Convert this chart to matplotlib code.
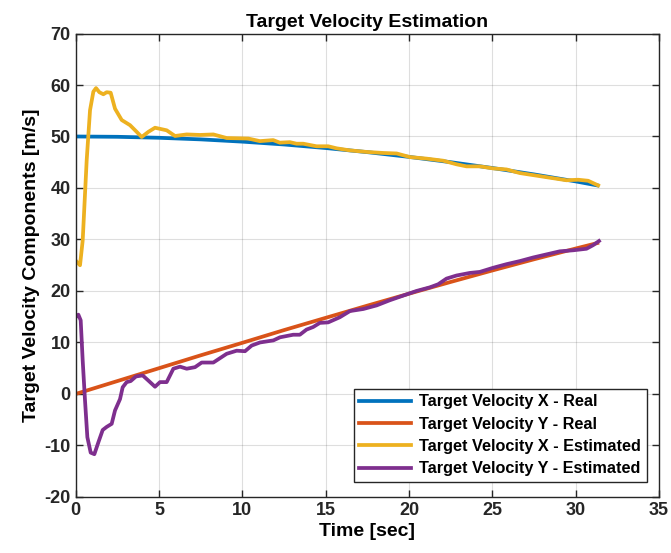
import numpy as np
import matplotlib
matplotlib.use("Agg")
import matplotlib.pyplot as plt

plt.rcParams['font.family'] = ['Liberation Sans', 'DejaVu Sans']
plt.rcParams['font.weight'] = 'bold'
plt.rcParams['axes.unicode_minus'] = False

# real target velocity components
t_real = [0, 2.5, 5, 7.5, 10, 12.5, 15, 17.5, 20, 22.5, 25, 27.5, 30, 31.3]
vx_real = [50.0, 49.94, 49.75, 49.44, 49.0, 48.45, 47.76, 46.96, 46.04, 45.01, 43.88, 42.64, 41.28, 40.5]
vy_real = [0.0, 2.5, 5.0, 7.5, 9.93, 12.4, 14.78, 17.15, 19.47, 21.75, 23.98, 26.15, 28.24, 29.3]

# estimated x component
t_est_x = [0, 0.26, 0.42, 0.56, 0.66, 0.86, 1.06, 1.22, 1.42, 1.66, 1.86, 2.1, 2.36, 2.76,
           3.26, 3.66, 3.96, 4.36, 4.76, 5.46, 5.96, 6.66, 7.46, 8.26, 9.06, 10.36, 11.05,
           11.85, 12.25, 12.85, 13.25, 13.65, 14.45, 15.15, 15.66, 16.46, 17.46, 18.46,
           19.26, 20.06, 21.06, 22.05, 22.85, 23.45, 24.25, 25.05, 25.85, 26.65, 27.45,
           28.45, 29.45, 30.15, 30.75, 31.35]
vx_est = [25.9, 25.0, 29.8, 38.9, 45.4, 55.1, 58.7, 59.4, 58.6, 58.2, 58.6, 58.5, 55.4, 53.2,
          52.2, 50.9, 49.9, 50.9, 51.7, 51.2, 50.1, 50.4, 50.3, 50.4, 49.7, 49.6, 49.1,
          49.3, 48.8, 48.9, 48.6, 48.6, 48.1, 48.1, 47.7, 47.3, 47.0, 46.8,
          46.7, 46.0, 45.7, 45.3, 44.6, 44.2, 44.2, 43.8, 43.6, 42.9, 42.5,
          42.0, 41.5, 41.6, 41.4, 40.5]

# estimated y component
t_est_y = [0, 0.16, 0.3, 0.42, 0.56, 0.7, 0.9, 1.12, 1.36, 1.62, 1.86, 2.16, 2.36, 2.66,
           2.82, 3.06, 3.3, 3.62, 4.02, 4.36, 4.76, 5.06, 5.46, 5.86, 6.26, 6.66, 7.16,
           7.56, 8.26, 9.06, 9.66, 10.16, 10.56, 11.06, 11.86, 12.26, 13.05, 13.45, 13.85,
           14.25, 14.65, 15.15, 15.85, 16.46, 17.26, 18.06, 18.85, 19.65, 20.45, 21.25,
           21.75, 22.25, 22.85, 23.65, 24.25, 25.05, 25.85, 26.65, 27.45, 28.25, 29.05,
           29.85, 30.65, 31.05, 31.4]
vy_est = [14.9, 15.4, 14.3, 6.5, -1.3, -8.4, -11.4, -11.7, -9.4, -7.0, -6.4, -5.8, -3.2, -1.0,
          1.3, 2.3, 2.5, 3.4, 3.6, 2.6, 1.4, 2.3, 2.3, 4.9, 5.3, 4.9, 5.2,
          6.1, 6.1, 7.8, 8.4, 8.3, 9.4, 10.0, 10.4, 11.0, 11.5, 11.5, 12.5,
          13.0, 13.8, 13.9, 14.9, 16.1, 16.5, 17.2, 18.2, 19.1, 20.0, 20.7,
          21.3, 22.4, 23.0, 23.5, 23.7, 24.5, 25.2, 25.8, 26.5, 27.1, 27.7,
          27.9, 28.2, 28.9, 29.7]

series_labels = ['Target Velocity X - Real', 'Target Velocity Y - Real',
                 'Target Velocity X - Estimated', 'Target Velocity Y - Estimated']
colors = ['#0072BD', '#D95319', '#EDB120', '#7E2F8E']

fig = plt.figure(figsize=(6.71, 5.53), dpi=100)
ax = fig.add_axes([0.1128, 0.1014, 0.8693, 0.838])

lw = 2.7
ax.plot(t_real, vx_real, color=colors[0], lw=lw, label=series_labels[0])
ax.plot(t_real, vy_real, color=colors[1], lw=lw, label=series_labels[1])
ax.plot(t_est_x, vx_est, color=colors[2], lw=lw, label=series_labels[2])
ax.plot(t_est_y, vy_est, color=colors[3], lw=lw, label=series_labels[3])

ax.set_xlim(0, 35)
ax.set_ylim(-20, 70)
ax.set_xticks(range(0, 36, 5))
ax.set_yticks(range(-20, 71, 10))
ax.grid(True, color='#262626', alpha=0.15, lw=0.8)
ax.tick_params(direction='in', top=True, right=True, labelsize=13, length=5,
               width=1, colors='#262626')
for lab in ax.get_xticklabels() + ax.get_yticklabels():
    lab.set_fontweight('bold')
for s in ax.spines.values():
    s.set_color('#262626')
    s.set_linewidth(1.0)

ax.set_title('Target Velocity Estimation', fontsize=14, fontweight='bold', pad=5)
ax.set_xlabel('Time [sec]', fontsize=14, fontweight='bold', labelpad=3)
ax.set_ylabel('Target Velocity Components [m/s]', fontsize=14, fontweight='bold', labelpad=3)

leg = ax.legend(loc='lower right', bbox_to_anchor=(0.9794, 0.0324), borderaxespad=0,
                prop={'weight': 'bold', 'size': 11.7}, frameon=True, fancybox=False,
                handlelength=3.2, borderpad=0.35, labelspacing=0.45, handletextpad=0.5)
leg.get_frame().set_edgecolor('#262626')
leg.get_frame().set_linewidth(1.0)
leg.get_frame().set_alpha(1)

fig.savefig('out.png', dpi=100)
